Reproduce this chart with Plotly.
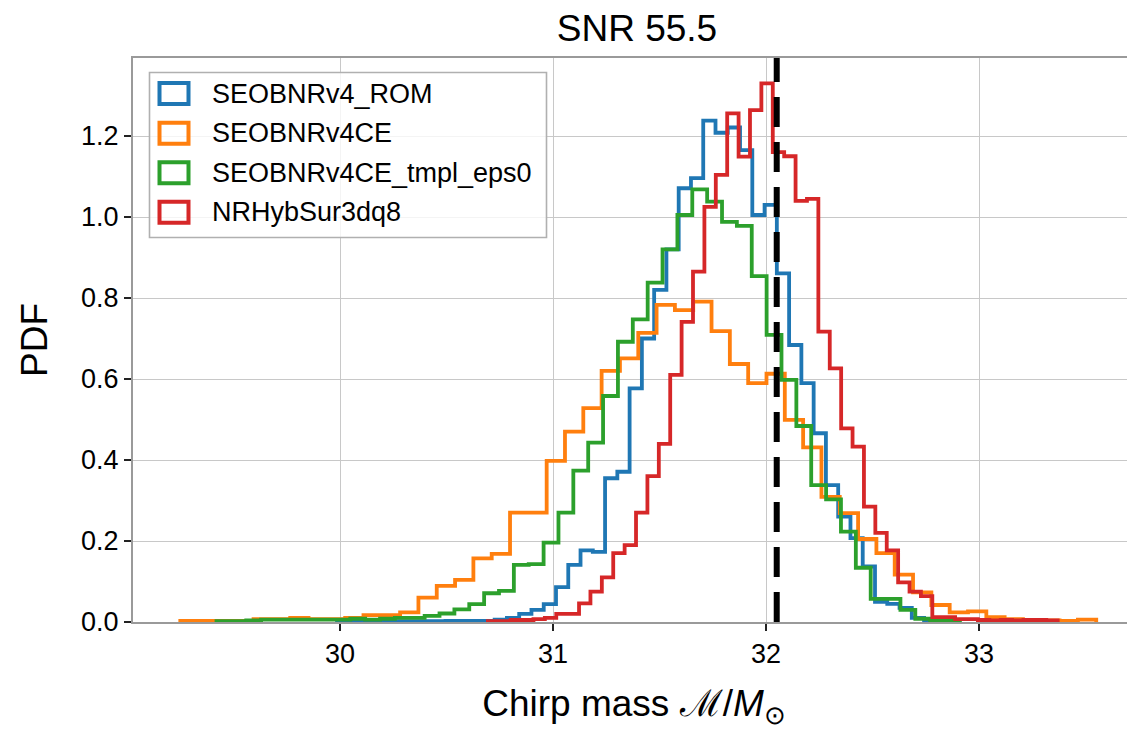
import plotly.graph_objects as go

# ---------------- data (density histograms, 50 bins each) ----------------
series_names = ["SEOBNRv4_ROM", "SEOBNRv4CE", "SEOBNRv4CE_tmpl_eps0", "NRHybSur3dq8"]
series_colors = ["#1f77b4", "#ff7f0e", "#2ca02c", "#d62728"]

rom_start, rom_width = 29.977, 0.0576
rom_pdf = [0, 0, 0, 0, 0, 0.002, 0.002, 0.002, 0.002, 0.003,
           0.003, 0.003, 0.003, 0.006, 0.01, 0.02, 0.03, 0.044, 0.086, 0.141,
           0.177, 0.173, 0.355, 0.371, 0.577, 0.70, 0.82, 0.92, 1.071, 1.096,
           1.238, 1.208, 1.221, 1.165, 1.005, 1.03, 0.861, 0.684, 0.59, 0.466,
           0.338, 0.26, 0.207, 0.137, 0.05, 0.045, 0.035, 0.01, 0.004, 0.003]

ce_start, ce_width = 29.25, 0.086
ce_pdf = [0.003, 0.003, 0.003, 0.003, 0.007, 0.007, 0.01, 0.007, 0.007, 0.01,
          0.017, 0.017, 0.024, 0.06, 0.089, 0.104, 0.157, 0.168, 0.27, 0.27,
          0.398, 0.47, 0.528, 0.62, 0.651, 0.714, 0.783, 0.77, 0.791, 0.718,
          0.637, 0.59, 0.613, 0.499, 0.431, 0.309, 0.269, 0.205, 0.17, 0.117,
          0.073, 0.042, 0.024, 0.026, 0.012, 0.007, 0.004, 0.004, 0.003, 0.006]

eps0_start, eps0_width = 29.42, 0.0698
eps0_pdf = [0.002, 0.002, 0.004, 0.006, 0.006, 0.006, 0.006, 0.006, 0.006, 0.008,
            0.006, 0.008, 0.01, 0.01, 0.015, 0.021, 0.031, 0.044, 0.071, 0.077,
            0.141, 0.143, 0.196, 0.27, 0.374, 0.443, 0.558, 0.692, 0.747, 0.838,
            0.92, 1.005, 1.068, 1.038, 0.988, 0.978, 0.854, 0.709, 0.598, 0.484,
            0.338, 0.303, 0.223, 0.134, 0.057, 0.057, 0.03, 0.008, 0.005, 0.003]

nr_start, nr_width = 30.694, 0.0535
nr_pdf = [0.002, 0.002, 0.005, 0.005, 0.007, 0.01, 0.02, 0.02, 0.046, 0.075,
          0.11, 0.17, 0.19, 0.27, 0.36, 0.44, 0.61, 0.741, 0.865, 1.025,
          1.104, 1.256, 1.149, 1.264, 1.33, 1.16, 1.15, 1.04, 1.045, 0.717,
          0.626, 0.478, 0.433, 0.285, 0.22, 0.177, 0.098, 0.075, 0.064, 0.012,
          0.012, 0.007, 0.007, 0.005, 0.004, 0.005, 0.004, 0.005, 0.005, 0.004]

true_chirp_mass = 32.05
title_text = "SNR 55.5"
x_ticks = [30, 31, 32, 33]
y_ticks = [0.0, 0.2, 0.4, 0.6, 0.8, 1.0, 1.2]

# ---------------- figure ----------------
FONT = "Liberation Sans, Arial, Helvetica, sans-serif"
OFF = 8                      # page body margin
W, H = 1135 - OFF, 730 - OFF
# plot area in page pixels
PX0, PX1, PY0, PY1 = 133, 1135, 58, 622
L, R, T, B = PX0 - OFF, 0, PY0 - OFF, H - (PY1 - OFF)
pw, ph = PX1 - PX0, PY1 - PY0

def px_x(p):
    return (p - PX0) / pw

def px_y(p):
    return (PY1 - p) / ph

fig = go.Figure()

hists = [(rom_start, rom_width, rom_pdf),
         (ce_start, ce_width, ce_pdf),
         (eps0_start, eps0_width, eps0_pdf),
         (nr_start, nr_width, nr_pdf)]

for (start, width, pdf), name, color in zip(hists, series_names, series_colors):
    edges = [start + i * width for i in range(len(pdf) + 1)]
    xs = [edges[0]] + edges
    ys = [0.0] + list(pdf) + [0.0]
    fig.add_trace(go.Scatter(x=xs, y=ys, mode="lines", name=name,
                             line=dict(color=color, width=3.8, shape="hv"),
                             showlegend=False, hoverinfo="skip"))

# dashed true value line
fig.add_shape(type="line", xref="x", yref="paper", x0=true_chirp_mass, x1=true_chirp_mass,
              y0=0, y1=1, line=dict(color="black", width=6, dash="30px,15px"), layer="above")

# manual legend (matplotlib-style rectangle patches)
fig.add_shape(type="rect", xref="paper", yref="paper",
              x0=px_x(149.5), x1=px_x(546.5), y0=px_y(237.5), y1=px_y(72.5),
              line=dict(color="#b0b0b0", width=1.6), fillcolor="rgba(255,255,255,0.8)",
              layer="above")
row_y = [93.5, 133.3, 172.8, 212.3]
for name, color, yy in zip(series_names, series_colors, row_y):
    fig.add_shape(type="rect", xref="paper", yref="paper",
                  x0=px_x(159.5), x1=px_x(188.5), y0=px_y(yy + 10.5), y1=px_y(yy - 10.5),
                  line=dict(color=color, width=4), fillcolor="rgba(0,0,0,0)", layer="above")
    fig.add_annotation(xref="paper", yref="paper", x=px_x(210), y=px_y(yy),
                       text=name, showarrow=False, xanchor="left", yanchor="middle",
                       font=dict(family=FONT, size=27, color="black"))

fig.update_layout(
    width=W, height=H,
    margin=dict(l=L, r=R, t=T, b=B, pad=0),
    paper_bgcolor="white", plot_bgcolor="white",
    font=dict(family=FONT, size=27, color="black"),
    title=dict(text=title_text, x=(637 - OFF) / W, xref="container", xanchor="center",
               y=1 - (28 - OFF) / H, yref="container", yanchor="middle",
               font=dict(family=FONT, size=37, color="black")),
    showlegend=False,
)
fig.update_xaxes(range=[29.028, 33.732], tickvals=x_ticks, ticktext=[str(v) for v in x_ticks],
                 ticks="outside", ticklen=7, tickwidth=1.5, tickcolor="#222",
                 showgrid=True, gridcolor="#c8c8c8", gridwidth=1.3, zeroline=False,
                 showline=True, linecolor="#9a9a9a", linewidth=2, mirror=True,
                 tickfont=dict(family=FONT, size=27),
                 title=dict(text="Chirp mass ℳ/<i>M</i><sub>⊙</sub>", standoff=22,
                            font=dict(family=FONT, size=37)))
fig.update_yaxes(range=[0, 1.3926], tickvals=y_ticks, ticktext=[f"{v:.1f}" for v in y_ticks],
                 ticks="outside", ticklen=7, tickwidth=1.5, tickcolor="#222",
                 showgrid=True, gridcolor="#c8c8c8", gridwidth=1.3, zeroline=False,
                 showline=True, linecolor="#9a9a9a", linewidth=2, mirror=False,
                 tickfont=dict(family=FONT, size=27),
                 title=dict(text="PDF", standoff=22, font=dict(family=FONT, size=37)))

fig.write_html("out.html")
